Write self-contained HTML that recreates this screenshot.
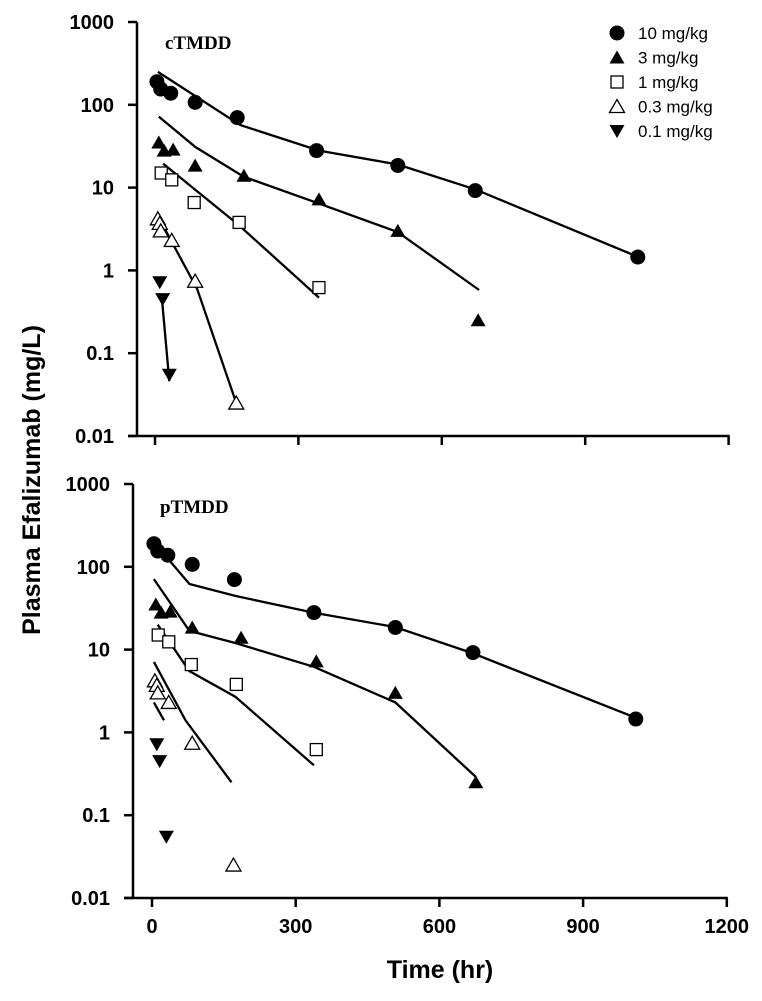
<!DOCTYPE html>
<html><head><meta charset="utf-8"><style>
body{margin:0;background:#fff}
svg{display:block}
text{font-family:"Liberation Sans",Arial,sans-serif}
text.serif{font-family:"Liberation Serif","Times New Roman",serif}
</style></head><body>
<svg id="chart" width="762" height="1001" viewBox="0 0 762 1001" xmlns="http://www.w3.org/2000/svg">
<text x="40" y="480" transform="rotate(-90 40 480)" text-anchor="middle" font-size="25" font-weight="bold">Plasma Efalizumab (mg/L)</text>
<text x="440" y="978" text-anchor="middle" font-size="25" font-weight="bold">Time (hr)</text>
<g id="legend"></g>
</svg>
<script>
const xTicks=[0,300,600,900,1200];
const yTicks=[0.01,0.1,1,10,100,1000];
const yTickLabels=["0.01","0.1","1","10","100","1000"];
const doses=["10 mg/kg","3 mg/kg","1 mg/kg","0.3 mg/kg","0.1 mg/kg"];
const markers=["circle","tri","square","otri","dtri"];
// observed data
const obsT10=[4,12,33,84,172,338,508,670,1010];
const obsC10=[190,155,138,107,70,28,18.5,9.2,1.45];
const obsT3=[8,19,38,84,186,343,508,676];
const obsC3=[35,28,28.7,18.4,13.9,7.2,3,0.25];
const obsT1=[13,35,82,176,343];
const obsC1=[15,12.4,6.6,3.8,0.62];
const obsT03=[6,10,12,35,84,170];
const obsC03=[4.2,3.7,3.0,2.3,0.74,0.025];
const obsT01=[10,16,30];
const obsC01=[0.72,0.45,0.055];
// cTMDD fits
const cT10=[6,178,343,508,670,1010];
const cC10=[250,57,28,19,9.5,1.46];
const cT3=[8,84,186,343,508,678];
const cC3=[72,31,13.5,6.4,2.9,0.58];
const cT1=[17,176,343];
const cC1=[19.5,3.5,0.47];
const cT03=[8,88,170];
const cC03=[4.3,0.6,0.025];
const cT01=[14,30];
const cC01=[0.49,0.046];
// pTMDD fits
const pT10=[23,78,174,338,508,668,1010];
const pC10=[147,62,44.5,27.8,18.7,9.1,1.5];
const pT3=[4,78,174,338,508,676];
const pC3=[71,16.8,12,6.2,2.3,0.29];
const pT1=[12,78,174,338];
const pC1=[20,5.5,2.7,0.4];
const pT03=[4,70,166];
const pC03=[7.1,1.4,0.25];
const pT01=[4,25];
const pC01=[2.3,1.4];

const NS="http://www.w3.org/2000/svg";
const svg=document.getElementById('chart');
function mk(tag,attrs,parent){const e=document.createElementNS(NS,tag);for(const k in attrs)e.setAttribute(k,attrs[k]);(parent||svg).appendChild(e);return e;}

function marker(type,cx,cy,g){
  let e;
  if(type==="circle") e=mk('circle',{cx:cx,cy:cy,r:7.5,fill:'#000'},g);
  else if(type==="square") e=mk('rect',{x:cx-6,y:cy-6,width:12,height:12,fill:'#fff',stroke:'#000','stroke-width':1.3},g);
  else if(type==="tri") e=mk('polygon',{points:`${cx},${cy-7} ${cx+7.5},${cy+6} ${cx-7.5},${cy+6}`,fill:'#000'},g);
  else if(type==="otri") e=mk('polygon',{points:`${cx},${cy-7} ${cx+7.5},${cy+6} ${cx-7.5},${cy+6}`,fill:'#fff',stroke:'#000','stroke-width':1.3},g);
  else e=mk('polygon',{points:`${cx},${cy+7} ${cx+7.5},${cy-6} ${cx-7.5},${cy-6}`,fill:'#000'},g);
  return e;
}

function panel(cfg){
  const g=mk('g',{});
  
  
  const X=t=>cfg.x0+t*cfg.sx;
  const Y=v=>cfg.yTop+(3-Math.log10(v))*cfg.dec;
  const yBot=Y(0.01);
  const ya=mk('line',{x1:cfg.ax,y1:Y(1000),x2:cfg.ax,y2:yBot,stroke:'#000','stroke-width':2.5},g);
  
  
  const xa=mk('line',{x1:cfg.ax-9,y1:yBot,x2:X(1200)+1,y2:yBot,stroke:'#000','stroke-width':2.5},g);
  
  
  yTicks.forEach((v,i)=>{
    mk('line',{x1:cfg.ax-9,y1:Y(v),x2:cfg.ax,y2:Y(v),stroke:'#000','stroke-width':2.5},g);
    const t=mk('text',{x:cfg.ax-23,y:Y(v)+7,'text-anchor':'end','font-size':20,'font-weight':'bold'},g);
    t.textContent=yTickLabels[i];
    
    
  });
  xTicks.forEach(v=>{
    mk('line',{x1:X(v),y1:yBot,x2:X(v),y2:yBot+9,stroke:'#000','stroke-width':2.5},g);
    if(cfg.labels){
      const t=mk('text',{x:X(v),y:yBot+35,'text-anchor':'middle','font-size':20,'font-weight':'bold'},g);
      t.textContent=String(v);
      
      
    }
  });
  const lab=mk('text',{x:cfg.lx,y:cfg.ly,'font-size':19,'font-weight':'bold','class':'serif'},g);
  lab.textContent=cfg.title;
  
  
  cfg.fits.forEach((f,i)=>{
    const pts=f[0].map((t,j)=>X(t).toFixed(1)+','+Y(f[1][j]).toFixed(1)).join(' ');
    const l=mk('polyline',{points:pts,fill:'none',stroke:'#000','stroke-width':2.3},g);
    
    
  });
  const obs=[[obsT10,obsC10],[obsT3,obsC3],[obsT1,obsC1],[obsT03,obsC03],[obsT01,obsC01]];
  obs.forEach((o,i)=>{
    o[0].forEach((t,j)=>{
      const m=marker(markers[i],X(t),Y(o[1][j]),g);
      
      
    });
  });
}
panel({name:'ctmdd-panel',x0:155,sx:0.478,yTop:22,dec:82.8,ax:137,labels:false,title:'cTMDD',lx:165,ly:49,
  fits:[[cT10,cC10],[cT3,cC3],[cT1,cC1],[cT03,cC03],[cT01,cC01]]});
panel({name:'ptmdd-panel',x0:152,sx:0.479,yTop:484,dec:82.8,ax:133,labels:true,title:'pTMDD',lx:160,ly:513,
  fits:[[pT10,pC10],[pT3,pC3],[pT1,pC1],[pT03,pC03],[pT01,pC01]]});

const lg=document.getElementById('legend');
doses.forEach((d,i)=>{
  const y=33+i*24.5;
  const m=marker(markers[i],617,y,lg);
  
  
  const t=mk('text',{x:638,y:y+6,'font-size':17},lg);
  t.textContent=d;
  
  
});
</script>
</body></html>
